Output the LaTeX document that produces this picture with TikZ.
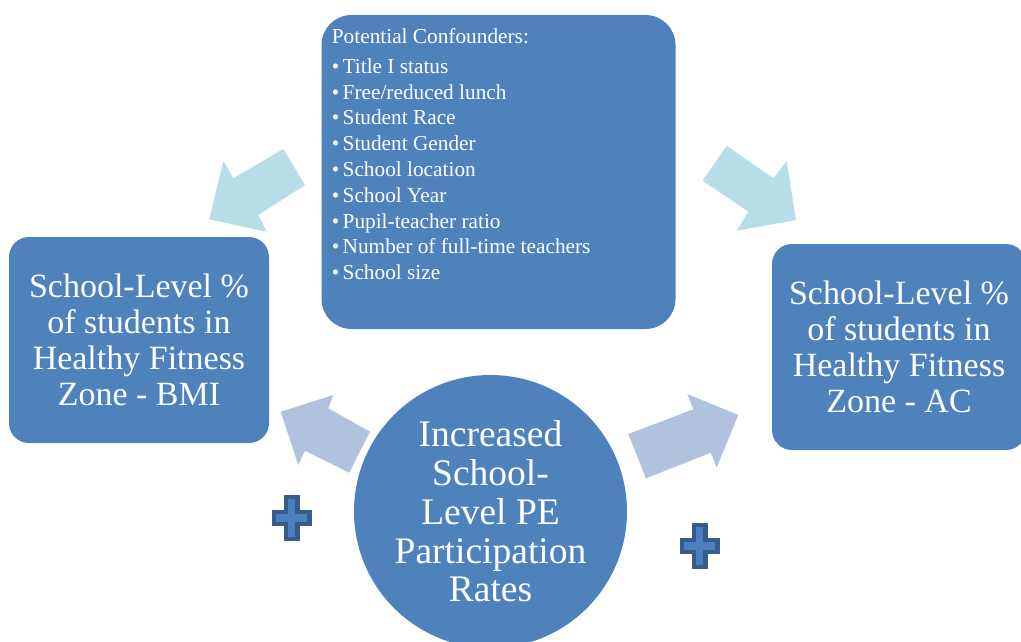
\documentclass[tikz,border=0pt]{standalone}
\usepackage{fontspec}
\setmainfont{Liberation Serif}
\definecolor{boxblue}{RGB}{79,129,189}
\definecolor{arrowcyan}{RGB}{183,221,232}
\definecolor{arrowsteel}{RGB}{177,194,222}
\definecolor{plusedge}{RGB}{56,93,138}
\definecolor{plusfill}{RGB}{74,126,190}
\newcommand{\bul}{\makebox[10.8pt][l]{•}}
\tikzset{
  outcome/.style={fill=boxblue, rounded corners=20pt, minimum width=260pt,
    minimum height=206pt, inner sep=0pt, align=center, text=white,
    font=\fontsize{34}{36}\selectfont},
  blockarrow/.style={draw=none},
  plusstyle/.style={fill=plusfill, draw=plusedge, line width=4.4pt, line join=miter},
  plussign/.pic={
    \path[plusstyle] (-5.8,-21.1) -- (5.8,-21.1) -- (5.8,-5.8) -- (17.8,-5.8)
      -- (17.8,5.8) -- (5.8,5.8) -- (5.8,21.1) -- (-5.8,21.1) -- (-5.8,5.8)
      -- (-17.8,5.8) -- (-17.8,-5.8) -- (-5.8,-5.8) -- cycle;
  }
}
\begin{document}
\begin{tikzpicture}[x=1pt,y=-1pt]
\useasboundingbox (0,0) rectangle (1021,641);
\begin{scope}
\clip (0,0) rectangle (1021,641);

% confounder box
\node[fill=boxblue, rounded corners=30pt, minimum width=354pt, minimum height=314pt,
      inner sep=0pt] (conf) at (498.5,172) {};
\node[anchor=north west, inner sep=0pt, align=left, text=white,
      font=\fontsize{21.3}{25.8}\selectfont] (conflist) at (331.7,28)
  {Potential Confounders:\\[4.2pt]
   \bul Title I status\\
   \bul Free/reduced lunch\\
   \bul Student Race\\
   \bul Student Gender\\
   \bul School location\\
   \bul School Year\\
   \bul Pupil-teacher ratio\\
   \bul Number of full-time teachers\\
   \bul School size};

% outcome boxes
\node[outcome] (bmi) at (139,340)
  {School-Level \%\\of students in\\Healthy Fitness\\Zone - BMI};
\node[outcome, minimum width=254pt] (ac) at (899,347)
  {School-Level \%\\of students in\\Healthy Fitness\\Zone - AC};

% exposure circle
\node[circle, fill=boxblue, minimum size=273pt, inner sep=0pt, align=center,
      text=white, font=\fontsize{37.5}{38.8}\selectfont] (pe) at (490.5,511.5)
  {Increased\\School-\\Level PE\\Participation\\Rates};

% block arrows from the confounders
\fill[arrowcyan, blockarrow] (209.3,219.3) -- (223.3,161) -- (233.3,178.3)
  -- (283.3,149) -- (305,185) -- (258.3,215) -- (266.7,231.7) -- cycle;
\fill[arrowcyan, blockarrow] (726.7,145.7) -- (773.3,178.3) -- (786.7,161)
  -- (796,220) -- (736.7,230.7) -- (748.3,211.7) -- (702.7,180.7) -- cycle;

% block arrows from the exposure
\fill[arrowsteel, blockarrow] (280.7,411.7) -- (333.3,395) -- (328.3,408.3)
  -- (370,431.7) -- (349.3,472.7) -- (305,450.7) -- (298.3,465) -- cycle;
\fill[arrowsteel, blockarrow] (628.3,434) -- (646,478.3) -- (710.7,452.7)
  -- (716.7,467.3) -- (738.3,415) -- (687.3,394) -- (693.3,409.3) -- cycle;

% positive association signs
\pic at (291.7,518) {plussign};
\pic at (699.7,546) {plussign};
\end{scope}
\end{tikzpicture}
\end{document}
